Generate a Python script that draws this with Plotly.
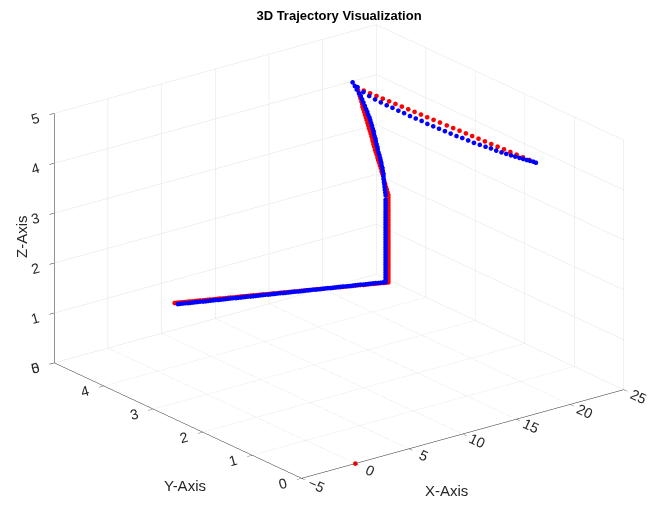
import plotly.graph_objects as go

# Reference path (red): first sample sits at the origin, then the planned route
ref_x = [0.00,
         3.31, 3.49, 3.67, 3.85, 4.03, 4.21, 4.39, 4.57, 4.75, 4.93, 5.11, 5.29, 5.47, 5.65, 5.83,
         6.01, 6.19, 6.37, 6.55, 6.73, 6.91, 7.09, 7.27, 7.45, 7.63, 7.81, 7.99, 8.17, 8.35, 8.53,
         8.71, 8.89, 9.07, 9.25, 9.43, 9.61, 9.79, 9.97, 10.15, 10.33, 10.51, 10.69, 10.87, 11.05,
         11.23, 11.41, 11.59, 11.77, 11.95, 12.13, 12.31, 12.49, 12.67, 12.85, 13.03, 13.21,
         13.39, 13.57, 13.75, 13.93, 14.11, 14.29, 14.47, 14.65, 14.83, 15.01, 15.19, 15.37,
         15.55, 15.73, 15.91, 16.09, 16.27, 16.45, 16.63, 16.81, 16.99, 17.17, 17.35, 17.53,
         17.71, 17.89, 18.07, 18.25, 18.42,
         18.42, 18.42, 18.42, 18.42, 18.42, 18.42, 18.42, 18.42, 18.42, 18.42, 18.42, 18.42,
         18.42, 18.42, 18.42, 18.42, 18.42, 18.42, 18.42, 18.42, 18.42, 18.42, 18.42, 18.42,
         18.42, 18.42, 18.42, 18.42, 18.42, 18.42, 18.42, 18.42, 18.42, 18.42,
         18.42, 18.44, 18.45, 18.47, 18.49, 18.50, 18.52, 18.54, 18.55, 18.57, 18.59, 18.60,
         18.62, 18.63, 18.65, 18.67, 18.68, 18.70, 18.72, 18.73, 18.75, 18.77, 18.78, 18.80,
         18.82, 18.83, 18.85, 18.87, 18.88, 18.90, 18.92, 18.93, 18.95, 18.96, 18.98, 19.00,
         19.01, 19.03, 19.05, 19.06, 19.08,
         19.12, 19.16, 19.20, 19.23, 19.27, 19.31, 19.35, 19.39, 19.43, 19.47, 19.50, 19.54,
         19.58, 19.62, 19.66, 19.70, 19.74, 19.77, 19.81, 19.85, 19.89, 19.93, 19.97, 20.01,
         20.04, 20.08, 20.12, 20.16]
ref_y = [0.00,
         4.37, 4.36, 4.35, 4.33, 4.32, 4.31, 4.30, 4.28, 4.27, 4.26, 4.25, 4.23, 4.22, 4.21, 4.20,
         4.18, 4.17, 4.16, 4.15, 4.13, 4.12, 4.11, 4.10, 4.08, 4.07, 4.06, 4.05, 4.04, 4.02, 4.01,
         4.00, 3.99, 3.97, 3.96, 3.95, 3.94, 3.92, 3.91, 3.90, 3.89, 3.87, 3.86, 3.85, 3.84, 3.82,
         3.81, 3.80, 3.79, 3.77, 3.76, 3.75, 3.74, 3.73, 3.71, 3.70, 3.69, 3.68, 3.66, 3.65, 3.64,
         3.63, 3.61, 3.60, 3.59, 3.58, 3.56, 3.55, 3.54, 3.53, 3.51, 3.50, 3.49, 3.48, 3.47, 3.45,
         3.44, 3.43, 3.42, 3.40, 3.39, 3.38, 3.37, 3.35, 3.34, 3.33,
         3.33, 3.33, 3.33, 3.33, 3.33, 3.33, 3.33, 3.33, 3.33, 3.33, 3.33, 3.33, 3.33, 3.33,
         3.33, 3.33, 3.33, 3.33, 3.33, 3.33, 3.33, 3.33, 3.33, 3.33, 3.33, 3.33, 3.33, 3.33,
         3.33, 3.33, 3.33, 3.33, 3.33, 3.33,
         3.33, 3.35, 3.37, 3.39, 3.41, 3.43, 3.45, 3.46, 3.48, 3.50, 3.52, 3.54, 3.56, 3.58,
         3.60, 3.62, 3.64, 3.66, 3.68, 3.70, 3.72, 3.73, 3.75, 3.77, 3.79, 3.81, 3.83, 3.85,
         3.87, 3.89, 3.91, 3.93, 3.95, 3.97, 3.98, 4.00, 4.02, 4.04, 4.06, 4.08, 4.10,
         3.98, 3.86, 3.74, 3.62, 3.50, 3.38, 3.26, 3.14, 3.02, 2.90, 2.78, 2.66, 2.54, 2.41,
         2.29, 2.17, 2.05, 1.93, 1.81, 1.69, 1.57, 1.45, 1.33, 1.21, 1.09, 0.97, 0.85, 0.73]
ref_z = [0.00,
         1.00, 1.00, 1.00, 1.00, 1.00, 1.00, 1.00, 1.00, 1.00, 1.00, 1.00, 1.00, 1.00, 1.00, 1.00,
         1.00, 1.00, 1.00, 1.00, 1.00, 1.00, 1.00, 1.00, 1.00, 1.00, 1.00, 1.00, 1.00, 1.00, 1.00,
         1.00, 1.00, 1.00, 1.00, 1.00, 1.00, 1.00, 1.00, 1.00, 1.00, 1.00, 1.00, 1.00, 1.00, 1.00,
         1.00, 1.00, 1.00, 1.00, 1.00, 1.00, 1.00, 1.00, 1.00, 1.00, 1.00, 1.00, 1.00, 1.00, 1.00,
         1.00, 1.00, 1.00, 1.00, 1.00, 1.00, 1.00, 1.00, 1.00, 1.00, 1.00, 1.00, 1.00, 1.00, 1.00,
         1.00, 1.00, 1.00, 1.00, 1.00, 1.00, 1.00, 1.00, 1.00, 1.00,
         1.05, 1.10, 1.15, 1.20, 1.25, 1.30, 1.35, 1.40, 1.45, 1.50, 1.55, 1.60, 1.65, 1.70,
         1.75, 1.80, 1.85, 1.90, 1.95, 2.00, 2.05, 2.10, 2.15, 2.20, 2.25, 2.30, 2.35, 2.40,
         2.45, 2.50, 2.55, 2.60, 2.65, 2.70,
         2.75, 2.79, 2.84, 2.88, 2.93, 2.97, 3.01, 3.06, 3.10, 3.14, 3.19, 3.23, 3.28, 3.32,
         3.36, 3.41, 3.45, 3.49, 3.54, 3.58, 3.63, 3.67, 3.71, 3.76, 3.80, 3.84, 3.89, 3.93,
         3.98, 4.02, 4.06, 4.11, 4.15, 4.19, 4.24, 4.28, 4.33, 4.37, 4.41, 4.46, 4.50,
         4.50, 4.50, 4.50, 4.50, 4.50, 4.50, 4.50, 4.50, 4.50, 4.50, 4.50, 4.50, 4.50, 4.50,
         4.50, 4.50, 4.50, 4.50, 4.50, 4.50, 4.50, 4.50, 4.50, 4.50, 4.50, 4.50, 4.50, 4.50]

# Tracked path (blue)
trk_x = [3.23, 3.41, 3.59, 3.77, 3.95, 4.13, 4.31, 4.49, 4.67, 4.85, 5.03, 5.21, 5.39, 5.57,
         5.75, 5.93, 6.11, 6.29, 6.47, 6.65, 6.83, 7.01, 7.19, 7.37, 7.55, 7.73, 7.91, 8.09,
         8.27, 8.45, 8.63, 8.81, 8.99, 9.17, 9.35, 9.53, 9.71, 9.89, 10.07, 10.25, 10.43, 10.61,
         10.79, 10.97, 11.15, 11.33, 11.51, 11.69, 11.87, 12.05, 12.23, 12.41, 12.59, 12.77,
         12.95, 13.13, 13.31, 13.49, 13.67, 13.85, 14.03, 14.21, 14.39, 14.57, 14.75, 14.93,
         15.11, 15.29, 15.47, 15.65, 15.83, 16.01, 16.19, 16.37, 16.55, 16.73, 16.91, 17.09,
         17.27, 17.45, 17.63, 17.81, 17.99, 18.17,
         18.16, 18.16, 18.16, 18.16, 18.16, 18.16, 18.16, 18.16, 18.16, 18.16, 18.16, 18.16,
         18.16, 18.16, 18.16, 18.16, 18.16, 18.16, 18.16, 18.16, 18.16, 18.16, 18.16, 18.16,
         18.16, 18.16, 18.16, 18.16, 18.16, 18.16, 18.16, 18.16, 18.16,
         18.16, 18.18, 18.19, 18.21, 18.23, 18.24, 18.26, 18.28, 18.29, 18.31, 18.33, 18.34,
         18.36, 18.38, 18.39, 18.41, 18.42, 18.44, 18.46, 18.47, 18.49, 18.51, 18.52, 18.54,
         18.56, 18.57, 18.59, 18.61, 18.62, 18.64, 18.66, 18.67, 18.69, 18.71, 18.72, 18.74,
         18.75, 18.77, 18.79, 18.80, 18.82,
         18.82, 18.86, 18.89, 18.93, 18.96, 19.00, 19.03, 19.07, 19.10, 19.14, 19.17, 19.21,
         19.24, 19.28, 19.31, 19.35, 19.38, 19.42, 19.45, 19.49, 19.52, 19.56, 19.59, 19.63,
         19.66, 19.69, 19.72, 19.75, 19.77, 19.80, 19.82, 19.84, 19.86, 19.88, 19.90]
trk_y = [4.29, 4.28, 4.27, 4.26, 4.24, 4.23, 4.22, 4.21, 4.20, 4.19, 4.17, 4.16, 4.15, 4.14,
         4.13, 4.12, 4.10, 4.09, 4.08, 4.07, 4.06, 4.05, 4.04, 4.02, 4.01, 4.00, 3.99, 3.98,
         3.97, 3.95, 3.94, 3.93, 3.92, 3.91, 3.90, 3.89, 3.87, 3.86, 3.85, 3.84, 3.83, 3.82,
         3.80, 3.79, 3.78, 3.77, 3.76, 3.75, 3.73, 3.72, 3.71, 3.70, 3.69, 3.68, 3.67, 3.65,
         3.64, 3.63, 3.62, 3.61, 3.60, 3.58, 3.57, 3.56, 3.55, 3.54, 3.53, 3.51, 3.50, 3.49,
         3.48, 3.47, 3.46, 3.45, 3.43, 3.42, 3.41, 3.40, 3.39, 3.38, 3.36, 3.35, 3.34, 3.33,
         3.33, 3.33, 3.33, 3.33, 3.33, 3.33, 3.33, 3.33, 3.33, 3.33, 3.33, 3.33, 3.33, 3.33,
         3.33, 3.33, 3.33, 3.33, 3.33, 3.33, 3.33, 3.33, 3.33, 3.33, 3.33, 3.33, 3.33, 3.33,
         3.33, 3.33, 3.33, 3.33, 3.33,
         3.33, 3.34, 3.35, 3.36, 3.37, 3.38, 3.39, 3.40, 3.40, 3.42, 3.43, 3.45, 3.46, 3.48,
         3.49, 3.51, 3.53, 3.55, 3.56, 3.58, 3.60, 3.61, 3.63, 3.65, 3.66, 3.68, 3.70, 3.72,
         3.74, 3.76, 3.79, 3.81, 3.84, 3.87, 3.90, 3.93, 3.96, 4.00, 4.05, 4.09, 4.14,
         4.04, 3.93, 3.82, 3.71, 3.60, 3.49, 3.38, 3.27, 3.16, 3.05, 2.94, 2.83, 2.72, 2.61,
         2.50, 2.39, 2.28, 2.17, 2.06, 1.95, 1.84, 1.73, 1.62, 1.52, 1.42, 1.32, 1.23, 1.14,
         1.06, 0.98, 0.91, 0.84, 0.78, 0.72, 0.67]
trk_z = [1.02, 1.02, 1.02, 1.02, 1.02, 1.02, 1.02, 1.02, 1.02, 1.02, 1.02, 1.02, 1.02, 1.02,
         1.02, 1.02, 1.02, 1.02, 1.02, 1.02, 1.02, 1.02, 1.02, 1.02, 1.02, 1.02, 1.02, 1.02,
         1.02, 1.02, 1.02, 1.02, 1.02, 1.02, 1.02, 1.02, 1.02, 1.02, 1.02, 1.02, 1.02, 1.02,
         1.02, 1.02, 1.02, 1.02, 1.02, 1.02, 1.02, 1.02, 1.02, 1.02, 1.02, 1.02, 1.02, 1.02,
         1.02, 1.02, 1.02, 1.02, 1.02, 1.02, 1.02, 1.02, 1.02, 1.02, 1.02, 1.02, 1.02, 1.02,
         1.02, 1.02, 1.02, 1.02, 1.02, 1.02, 1.02, 1.02, 1.02, 1.02, 1.02, 1.02, 1.02, 1.02,
         1.07, 1.12, 1.17, 1.22, 1.27, 1.32, 1.37, 1.42, 1.47, 1.52, 1.57, 1.62, 1.67, 1.72,
         1.77, 1.82, 1.87, 1.92, 1.97, 2.02, 2.07, 2.12, 2.17, 2.22, 2.27, 2.32, 2.37, 2.42,
         2.47, 2.52, 2.57, 2.62, 2.67,
         2.76, 2.81, 2.86, 2.91, 2.96, 3.00, 3.05, 3.10, 3.15, 3.20, 3.25, 3.29, 3.34, 3.38,
         3.42, 3.47, 3.51, 3.56, 3.60, 3.65, 3.70, 3.74, 3.78, 3.83, 3.87, 3.91, 3.96, 4.00,
         4.05, 4.09, 4.13, 4.18, 4.22, 4.27, 4.32, 4.37, 4.42, 4.46, 4.51, 4.56, 4.61,
         4.56, 4.51, 4.48, 4.46, 4.45, 4.44, 4.44, 4.43, 4.43, 4.42, 4.42, 4.42, 4.41, 4.41,
         4.41, 4.41, 4.41, 4.41, 4.42, 4.42, 4.42, 4.43, 4.44, 4.45, 4.45, 4.46, 4.47, 4.48,
         4.49, 4.50, 4.51, 4.52, 4.53, 4.54, 4.54]

x_ticks = [-5, 0, 5, 10, 15, 20, 25]
y_ticks = [0, 1, 2, 3, 4, 5]
z_ticks = [0, 1, 2, 3, 4, 5]

FONT = "Liberation Sans, Arial, Helvetica, sans-serif"
INK = "#262626"

fig = go.Figure()
fig.add_trace(go.Scatter3d(x=ref_x, y=ref_y, z=ref_z, mode="markers",
                           marker=dict(size=2.7, color="#ff0000", line=dict(width=0)),
                           name="Reference", showlegend=False))
fig.add_trace(go.Scatter3d(x=trk_x, y=trk_y, z=trk_z, mode="markers",
                           marker=dict(size=2.7, color="#0000ff", line=dict(width=0)),
                           name="Actual", showlegend=False))


def axis(rng, ticks):
    return dict(range=rng, tickvals=ticks, autorange=False,
                showgrid=True, gridcolor="#e2e2e2", gridwidth=1,
                showline=True, linecolor=INK, linewidth=1,
                ticks="outside", ticklen=6, tickcolor=INK,
                tickfont=dict(family=FONT, size=13, color=INK),
                showbackground=False, showspikes=False, zeroline=False,
                title=dict(text=""))


# box proportions (orthographic zoom is carried by the aspect ratio)
box = 1.615
label_font = dict(family=FONT, size=15, color=INK)
fig.update_layout(
    width=670, height=506,
    margin=dict(l=0, r=0, t=0, b=0),
    paper_bgcolor="white",
    title=dict(text="<b>3D Trajectory Visualization</b>", x=0.506, xanchor="center",
               y=0.970, yanchor="middle", yref="container",
               font=dict(family=FONT, size=13, color="#000000")),
    scene=dict(
        domain=dict(x=[0.012, 1.0], y=[0.006, 1.0]),
        xaxis=axis([-5, 25], x_ticks),
        yaxis=axis([0, 5], y_ticks),
        zaxis=axis([0, 5], z_ticks),
        aspectmode="manual",
        aspectratio=dict(x=box, y=box, z=0.658 * box),
        bgcolor="white",
        camera=dict(projection=dict(type="orthographic"),
                    up=dict(x=0, y=0, z=1), center=dict(x=0, y=0, z=0),
                    eye=dict(x=-0.5686 * 2, y=-0.7404 * 2, z=0.3584 * 2)),
    ),
    annotations=[
        dict(text="X-Axis", x=447 / 670, y=1 - 490 / 506, xref="paper", yref="paper",
             xanchor="center", yanchor="middle", showarrow=False, font=label_font),
        dict(text="Y-Axis", x=185 / 670, y=1 - 485 / 506, xref="paper", yref="paper",
             xanchor="center", yanchor="middle", showarrow=False, font=label_font),
        dict(text="Z-Axis", x=22 / 670, y=1 - 237 / 506, xref="paper", yref="paper",
             xanchor="center", yanchor="middle", showarrow=False, textangle=-90,
             font=label_font),
    ],
)

fig.write_html("out.html", config={"displayModeBar": False})
